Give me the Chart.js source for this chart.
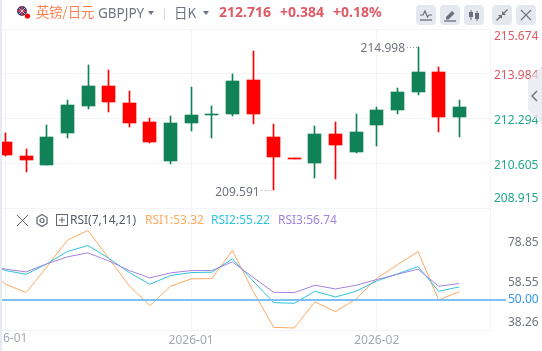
<!DOCTYPE html>
<html>
<head>
<meta charset="utf-8">
<title>GBPJPY</title>
<script src="https://cdn.jsdelivr.net/npm/chart.js@4"></script>
<style>
    html, body { margin: 0; padding: 0; background: #fff; overflow: hidden; }
    body { width: 542px; height: 351px; position: relative; font-family: "Noto Sans", "Noto Sans CJK SC", sans-serif; }
    #chartWrap { position: absolute; left: 0; top: 0; width: 542px; height: 351px; }
    .txt { position: absolute; white-space: nowrap; line-height: 18px; }
    .btn { position: absolute; top: 5px; width: 20px; height: 20px; border-radius: 4px; background: #e6e8f0; }
    svg { position: absolute; display: block; }
</style>
</head>
<body>
<div id="chartWrap"><canvas id="klineChart" width="542" height="351"></canvas></div>

<!-- left strip -->
<div style="position:absolute;left:0;top:0;width:2px;height:351px;background:#e8eaf3"></div>

<!-- header -->
<svg style="left:15px;top:5px" width="18" height="16" viewBox="0 0 18 16">
    <circle cx="7" cy="6" r="5" fill="#39396b"/>
    <path d="M2 6h10M7 1v10" stroke="#e04050" stroke-width="1.6"/>
    <path d="M3.5 2.5l7 7M10.5 2.5l-7 7" stroke="#e9dfe3" stroke-width=".8"/>
    <circle cx="12.5" cy="11" r="2.6" fill="#f00"/>
</svg>
<div class="txt" style="left:36px;top:3px;font-size:13.3px;color:#ff7f50;font-family:'Noto Sans CJK SC'">英镑/日元</div>
<div class="txt" style="left:98px;top:4px;font-size:13.5px;color:#6f7480">GBPJPY</div>
<svg style="left:148px;top:11px" width="6" height="4"><path d="M0 0h6L3 4z" fill="#6f7480"/></svg>
<div style="position:absolute;left:164px;top:8px;width:1px;height:12px;background:#d5d8e0"></div>
<div class="txt" style="left:174px;top:3px;font-size:13.5px;color:#6f7480;font-family:'Noto Sans CJK SC'">日K</div>
<svg style="left:203px;top:11px" width="6" height="4"><path d="M0 0h6L3 4z" fill="#6f7480"/></svg>
<div class="txt" style="left:219px;top:3px;font-size:14px;font-weight:700;color:#e05a66">212.716</div>
<div class="txt" style="left:280px;top:3px;font-size:14px;font-weight:700;color:#e05a66">+0.384</div>
<div class="txt" style="left:333px;top:3px;font-size:14px;font-weight:700;color:#e05a66">+0.18%</div>

<div class="btn" style="left:416px"><svg width="20" height="20" viewBox="0 0 20 20"><path d="M4 10h3l2-4 2.500 6 1.500-2h3" fill="none" stroke="#6b6f7c" stroke-width="1.200"/><path d="M4 15h12" stroke="#6b6f7c" stroke-width="1.300"/></svg></div>
<div class="btn" style="left:440px"><svg width="20" height="20" viewBox="0 0 20 20"><path d="M6 12l6-6 2.500 2.500-6 6H6z" fill="#6b6f7c"/><path d="M4 16h12" stroke="#6b6f7c" stroke-width="1.300"/></svg></div>
<div class="btn" style="left:464px"><svg width="20" height="20" viewBox="0 0 20 20"><path d="M7 5v10M13 6v10" stroke="#6b6f7c"/><rect x="5" y="7" width="4" height="5" fill="#6b6f7c"/><rect x="11" y="8" width="4" height="6" fill="#6b6f7c"/></svg></div>
<div class="btn" style="left:492px"><svg width="20" height="20" viewBox="0 0 20 20"><path d="M4.500 15.500L9 11M15.500 4.500L11 9" stroke="#6b6f7c" stroke-width="1.300"/><path d="M6 10h4v4zM14 10h-4V6z" fill="#6b6f7c"/></svg></div>
<div class="btn" style="left:516px"><svg width="20" height="20" viewBox="0 0 20 20"><path d="M5 5l10 10M15 5L5 15" stroke="#6b6f7c" stroke-width="1.200"/></svg></div>

<!-- RSI legend -->
<svg style="left:15px;top:213px" width="15" height="15" viewBox="0 0 15 15"><path d="M2 2l11 11M13 2L2 13" stroke="#62666f" stroke-width="1"/></svg>
<svg style="left:35px;top:213px" width="14" height="15" viewBox="0 0 14 15"><path d="M7 1.500l5 3v6l-5 3-5-3v-6z" fill="none" stroke="#62666f" stroke-width="1.200"/><circle cx="7" cy="7.500" r="2" fill="none" stroke="#62666f" stroke-width="1.200"/></svg>
<svg style="left:56px;top:214px" width="12" height="12" viewBox="0 0 12 12"><rect x=".5" y=".5" width="11" height="11" fill="none" stroke="#62666f"/><path d="M3 6h6M6 3v6" stroke="#62666f"/></svg>
<div class="txt" style="left:70px;top:211px;font-size:12px;color:#555a66">RSI(7,14,21)</div>
<div class="txt" style="left:145px;top:211px;font-size:12px;color:#ffa95e">RSI1:53.32</div>
<div class="txt" style="left:211px;top:211px;font-size:12px;color:#2fc4dc">RSI2:55.22</div>
<div class="txt" style="left:278px;top:211px;font-size:12px;color:#a283e0">RSI3:56.74</div>

<!-- side tab -->
<svg style="left:528px;top:60px" width="14" height="70" viewBox="0 0 14 70">
    <path d="M0 20L14 6v58L0 50z" fill="#e6e8f0" fill-opacity=".75"/>
    <path d="M9 31l-5 5 5 5" fill="none" stroke="#6b6f7c" stroke-width="1.400"/>
</svg>

<script>
// candles
const opens  = [211.411, 210.881, 210.541, 211.752, 212.773, 213.530, 212.887, 212.168, 210.692, 212.130, 212.440, 212.471, 213.757, 211.600, 210.806, 210.617, 211.714, 211.033, 212.054, 212.622, 213.303, 214.060, 212.357];
const closes = [210.919, 210.730, 211.600, 212.811, 213.530, 212.925, 212.130, 211.411, 212.130, 212.433, 212.478, 213.719, 212.471, 210.844, 210.768, 211.714, 211.298, 211.790, 212.622, 213.303, 214.060, 212.357, 212.716];
const highs  = [211.752, 211.146, 212.054, 213.000, 214.325, 214.135, 213.341, 212.319, 212.395, 213.492, 212.773, 213.984, 214.854, 212.092, 210.806, 212.017, 212.168, 212.471, 212.736, 213.454, 214.998, 214.249, 213.000];
const lows   = [210.881, 210.276, 210.541, 211.562, 212.660, 212.546, 211.979, 211.373, 210.579, 211.827, 211.562, 212.395, 212.092, 209.591, 210.768, 210.049, 210.011, 210.995, 211.260, 212.471, 213.190, 211.790, 211.600];

// RSI lines, first value belongs to the bar just off the left edge
const rsi1 = [68.40, 57.78, 53.50, 66.67, 80.34, 85.30, 71.11, 56.92, 46.84, 56.75, 60.51, 60.68, 75.04, 54.36, 35.73, 35.38, 48.72, 43.76, 50.25, 60.85, 67.69, 74.53, 49.74, 54.02];
const rsi2 = [70.10, 64.78, 62.90, 68.20, 74.53, 77.61, 71.11, 63.76, 57.78, 62.22, 63.76, 63.93, 70.77, 59.49, 48.37, 48.03, 54.19, 51.28, 54.19, 59.49, 63.08, 66.84, 54.19, 56.41];
const rsi3 = [68.50, 65.47, 64.10, 68.20, 71.79, 73.84, 69.74, 64.78, 61.02, 63.59, 64.78, 64.78, 69.23, 61.37, 53.67, 53.50, 57.26, 55.38, 57.26, 60.17, 62.90, 65.47, 56.75, 58.12];

// axis labels
const priceTicks = [215.674, 213.984, 212.294, 210.605, 208.915];
const rsiTicks = [78.85, 58.55, 50.00, 38.26];
const dateTickIndex = [0, 9, 18];
const dateTickLabels = ['', '2026-01', '2026-02'];
const firstDateLabel = '6-01';

const UP = '#118257';
const DOWN = '#ff0000';
const GRID = '#f3f4f7';
const TEXT_GREY = '#70747f';

const candleColors = closes.map((c, i) => (c >= opens[i] ? UP : DOWN));

// snap candles to whole pixels so wicks stay 1px wide
const snapPlugin = {
    id: 'snap',
    beforeDatasetsDraw(chart) {
        chart.data.datasets.forEach(function (ds, i) {
            if (ds.type === 'line') return;
            chart.getDatasetMeta(i).data.forEach(function (el) {
                el.x = Math.floor(el.x) + 0.5;
                el.y = Math.round(el.y);
                el.base = Math.round(el.base);
                if (el.y === el.base) el.base += 1;
            });
        });
    }
};

// stuff the axes can't do by themselves: labels kept inside the pane, hi/lo tags, the 50 line
const overlayPlugin = {
    id: 'overlay',
    afterDatasetsDraw(chart) {
        const { ctx, scales, chartArea } = chart;
        const y = scales.y, r = scales.yRsi, x = scales.x;
        ctx.save();

        // 50 line runs over into the axis
        const y50 = Math.ceil(r.getPixelForValue(50));
        ctx.strokeStyle = '#7cc0f5';
        ctx.lineWidth = 2;
        ctx.beginPath();
        ctx.moveTo(chartArea.left, y50);
        ctx.lineTo(506, y50);
        ctx.stroke();

        // price labels
        ctx.font = '12px "Noto Sans"';
        ctx.textAlign = 'left';
        ctx.textBaseline = 'middle';
        priceTicks.forEach(function (t, i) {
            let py = y.getPixelForValue(t) + 2;
            if (i === 0) py = y.top + 8;
            if (i === priceTicks.length - 1) py = y.bottom - 9;
            ctx.fillStyle = i < 2 ? '#e05a66' : '#1fa88c';
            ctx.fillText(t.toFixed(3), chartArea.right + 4, py);
        });

        // highest / lowest tags
        const hi = Math.max(...highs), lo = Math.min(...lows);
        const hiX = x.getPixelForValue(highs.indexOf(hi)), loX = x.getPixelForValue(lows.indexOf(lo));
        ctx.fillStyle = TEXT_GREY;
        ctx.textAlign = 'right';
        ctx.fillText(hi.toFixed(3), hiX - 13, y.getPixelForValue(hi) + 2);
        ctx.fillText(lo.toFixed(3), loX - 14, y.getPixelForValue(lo) + 2);
        ctx.strokeStyle = '#9a9ea8';
        ctx.lineWidth = 1;
        ctx.setLineDash([1, 2]);
        ctx.beginPath();
        ctx.moveTo(hiX - 11, Math.round(y.getPixelForValue(hi)) + .5);
        ctx.lineTo(hiX, Math.round(y.getPixelForValue(hi)) + .5);
        ctx.moveTo(loX - 12, Math.round(y.getPixelForValue(lo)) + .5);
        ctx.lineTo(loX, Math.round(y.getPixelForValue(lo)) + .5);
        ctx.stroke();
        ctx.setLineDash([]);

        // clipped date label at the left edge
        ctx.fillStyle = '#a3a7b2';
        ctx.textAlign = 'left';
        ctx.fillText(firstDateLabel, chartArea.left + 1, x.bottom - 12);
        ctx.restore();
    }
};

document.addEventListener('DOMContentLoaded', function () {
    const ctx = document.getElementById('klineChart').getContext('2d');

    new Chart(ctx, {
        type: 'bar',
        data: {
            datasets: [
                {
                    label: 'RSI3', type: 'line', yAxisID: 'yRsi',
                    data: rsi3.map((v, i) => ({ x: i - 1, y: v })),
                    borderColor: '#a283e0', borderWidth: 1, pointRadius: 0, tension: 0
                },
                {
                    label: 'RSI2', type: 'line', yAxisID: 'yRsi',
                    data: rsi2.map((v, i) => ({ x: i - 1, y: v })),
                    borderColor: '#2fc4dc', borderWidth: 1, pointRadius: 0, tension: 0
                },
                {
                    label: 'RSI1', type: 'line', yAxisID: 'yRsi',
                    data: rsi1.map((v, i) => ({ x: i - 1, y: v })),
                    borderColor: '#ffa95e', borderWidth: 1, pointRadius: 0, tension: 0
                },
                {
                    label: 'Body', yAxisID: 'y', grouped: false, barThickness: 13,
                    data: opens.map((o, i) => ({ x: i, y: [o, closes[i]] })),
                    backgroundColor: candleColors
                },
                {
                    label: 'Wick', yAxisID: 'y', grouped: false, barThickness: 1,
                    data: lows.map((l, i) => ({ x: i, y: [l, highs[i]] })),
                    backgroundColor: candleColors
                }
            ]
        },
        options: {
            responsive: false,
            animation: false,
            layout: { padding: { left: 2, top: 29, right: 0, bottom: 0 } },
            plugins: { legend: { display: false }, tooltip: { enabled: false } },
            scales: {
                x: {
                    type: 'linear',
                    position: 'bottom',
                    offset: false,
                    min: -0.17,
                    max: 23.49,
                    afterFit: function (s) { s.height = 21; s.paddingLeft = 0; s.paddingRight = 0; },
                    afterBuildTicks: function (s) { s.ticks = dateTickIndex.map(v => ({ value: v })); },
                    grid: { color: GRID, drawTicks: false, offset: false },
                    border: { color: GRID },
                    ticks: {
                        autoSkip: false,
                        maxRotation: 0,
                        padding: 3,
                        color: '#a3a7b2',
                        font: { family: 'Noto Sans', size: 12 },
                        callback: function (v) { return dateTickLabels[dateTickIndex.indexOf(v)]; }
                    }
                },
                y: {
                    position: 'right',
                    stack: 'panes',
                    stackWeight: 179,
                    min: 208.915,
                    max: 215.674,
                    afterFit: function (s) { s.width = 52; s.paddingTop = 0; s.paddingBottom = 0; },
                    afterBuildTicks: function (s) { s.ticks = priceTicks.map(v => ({ value: v })); },
                    grid: { color: GRID, drawTicks: false },
                    border: { color: GRID },
                    ticks: { display: false }
                },
                yRsi: {
                    position: 'right',
                    stack: 'panes',
                    stackWeight: 122,
                    min: 34.36,
                    max: 96.8,
                    afterFit: function (s) { s.width = 52; s.paddingTop = 0; s.paddingBottom = 0; },
                    afterBuildTicks: function (s) { s.ticks = rsiTicks.map(v => ({ value: v })); },
                    grid: { display: false, drawTicks: false },
                    border: { color: GRID },
                    ticks: {
                        padding: 18,
                        color: function (c) { return c.tick.value === 50 ? '#2f95ee' : TEXT_GREY; },
                        font: { family: 'Noto Sans', size: 12 },
                        callback: function (v) { return v.toFixed(2); }
                    }
                }
            }
        },
        plugins: [snapPlugin, overlayPlugin]
    });
});
</script>
</body>
</html>
